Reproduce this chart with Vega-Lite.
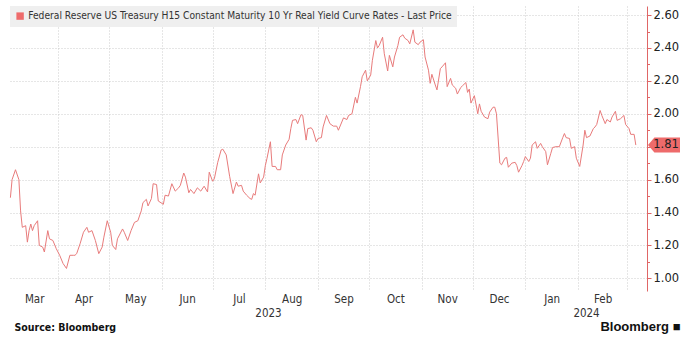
{
  "$schema": "https://vega.github.io/schema/vega-lite/v6.json",
  "width": 637,
  "height": 285,
  "autosize": {"type": "none"},
  "padding": {"left": 10, "top": 6, "right": 53, "bottom": 60},
  "background": "white",
  "config": {"view": {"stroke": null}, "font": "DejaVu Sans Condensed"},
  "data": {"values": [
    {"date":"2023-03-04","value":1.49},{"date":"2023-03-05","value":1.60},{"date":"2023-03-07","value":1.66},{"date":"2023-03-09","value":1.60},{"date":"2023-03-10","value":1.41},{"date":"2023-03-11","value":1.31},{"date":"2023-03-13","value":1.32},{"date":"2023-03-14","value":1.22},{"date":"2023-03-15","value":1.29},{"date":"2023-03-16","value":1.33},{"date":"2023-03-17","value":1.29},{"date":"2023-03-18","value":1.32},{"date":"2023-03-20","value":1.35},{"date":"2023-03-21","value":1.20},{"date":"2023-03-23","value":1.19},{"date":"2023-03-24","value":1.16},{"date":"2023-03-26","value":1.29},{"date":"2023-03-27","value":1.24},{"date":"2023-03-29","value":1.23},{"date":"2023-03-31","value":1.18},
    {"date":"2023-04-02","value":1.14},{"date":"2023-04-04","value":1.09},{"date":"2023-04-06","value":1.06},{"date":"2023-04-08","value":1.14},{"date":"2023-04-10","value":1.14},{"date":"2023-04-11","value":1.14},{"date":"2023-04-12","value":1.15},{"date":"2023-04-14","value":1.21},{"date":"2023-04-16","value":1.28},{"date":"2023-04-18","value":1.31},{"date":"2023-04-19","value":1.28},{"date":"2023-04-21","value":1.29},{"date":"2023-04-23","value":1.23},{"date":"2023-04-25","value":1.15},{"date":"2023-04-27","value":1.19},{"date":"2023-04-28","value":1.25},{"date":"2023-04-30","value":1.35},
    {"date":"2023-05-02","value":1.28},{"date":"2023-05-03","value":1.20},{"date":"2023-05-05","value":1.175},{"date":"2023-05-06","value":1.24},{"date":"2023-05-09","value":1.30},{"date":"2023-05-10","value":1.28},{"date":"2023-05-12","value":1.23},{"date":"2023-05-14","value":1.29},{"date":"2023-05-16","value":1.34},{"date":"2023-05-18","value":1.35},{"date":"2023-05-20","value":1.41},{"date":"2023-05-21","value":1.46},{"date":"2023-05-23","value":1.48},{"date":"2023-05-24","value":1.44},{"date":"2023-05-26","value":1.485},{"date":"2023-05-27","value":1.575},{"date":"2023-05-29","value":1.57},{"date":"2023-05-30","value":1.47},
    {"date":"2023-06-02","value":1.45},{"date":"2023-06-03","value":1.505},{"date":"2023-06-05","value":1.50},{"date":"2023-06-07","value":1.575},{"date":"2023-06-09","value":1.53},{"date":"2023-06-11","value":1.55},{"date":"2023-06-12","value":1.565},{"date":"2023-06-14","value":1.64},{"date":"2023-06-15","value":1.615},{"date":"2023-06-17","value":1.52},{"date":"2023-06-18","value":1.54},{"date":"2023-06-20","value":1.515},{"date":"2023-06-22","value":1.55},{"date":"2023-06-24","value":1.53},{"date":"2023-06-26","value":1.56},{"date":"2023-06-28","value":1.525},{"date":"2023-06-29","value":1.645},
    {"date":"2023-07-01","value":1.59},{"date":"2023-07-02","value":1.605},{"date":"2023-07-04","value":1.705},{"date":"2023-07-06","value":1.78},{"date":"2023-07-07","value":1.785},{"date":"2023-07-09","value":1.75},{"date":"2023-07-11","value":1.62},{"date":"2023-07-13","value":1.515},{"date":"2023-07-15","value":1.585},{"date":"2023-07-16","value":1.56},{"date":"2023-07-18","value":1.565},{"date":"2023-07-19","value":1.53},{"date":"2023-07-21","value":1.505},{"date":"2023-07-23","value":1.485},{"date":"2023-07-24","value":1.48},{"date":"2023-07-25","value":1.515},{"date":"2023-07-26","value":1.505},{"date":"2023-07-28","value":1.635},{"date":"2023-07-29","value":1.58},{"date":"2023-07-31","value":1.615},
    {"date":"2023-08-01","value":1.685},{"date":"2023-08-02","value":1.73},{"date":"2023-08-04","value":1.83},{"date":"2023-08-05","value":1.68},{"date":"2023-08-07","value":1.68},{"date":"2023-08-08","value":1.66},{"date":"2023-08-10","value":1.66},{"date":"2023-08-11","value":1.75},{"date":"2023-08-13","value":1.81},{"date":"2023-08-15","value":1.845},{"date":"2023-08-16","value":1.91},{"date":"2023-08-17","value":1.96},{"date":"2023-08-19","value":1.965},{"date":"2023-08-20","value":1.94},{"date":"2023-08-22","value":1.995},{"date":"2023-08-23","value":1.99},{"date":"2023-08-25","value":1.84},{"date":"2023-08-26","value":1.91},{"date":"2023-08-28","value":1.915},{"date":"2023-08-29","value":1.90},{"date":"2023-08-31","value":1.83},
    {"date":"2023-09-01","value":1.85},{"date":"2023-09-03","value":1.855},{"date":"2023-09-04","value":1.92},{"date":"2023-09-06","value":1.99},{"date":"2023-09-08","value":1.94},{"date":"2023-09-10","value":1.925},{"date":"2023-09-12","value":1.925},{"date":"2023-09-13","value":1.90},{"date":"2023-09-15","value":1.95},{"date":"2023-09-16","value":1.975},{"date":"2023-09-18","value":1.965},{"date":"2023-09-19","value":1.99},{"date":"2023-09-21","value":2.00},{"date":"2023-09-23","value":2.10},{"date":"2023-09-24","value":2.065},{"date":"2023-09-26","value":2.165},{"date":"2023-09-27","value":2.225},{"date":"2023-09-29","value":2.265},{"date":"2023-09-30","value":2.20},
    {"date":"2023-10-02","value":2.235},{"date":"2023-10-03","value":2.325},{"date":"2023-10-05","value":2.445},{"date":"2023-10-06","value":2.40},{"date":"2023-10-07","value":2.415},{"date":"2023-10-09","value":2.465},{"date":"2023-10-10","value":2.365},{"date":"2023-10-12","value":2.26},{"date":"2023-10-13","value":2.355},{"date":"2023-10-15","value":2.285},{"date":"2023-10-16","value":2.345},{"date":"2023-10-18","value":2.415},{"date":"2023-10-19","value":2.465},{"date":"2023-10-21","value":2.48},{"date":"2023-10-22","value":2.46},{"date":"2023-10-24","value":2.445},{"date":"2023-10-25","value":2.425},{"date":"2023-10-27","value":2.51},{"date":"2023-10-28","value":2.435},{"date":"2023-10-30","value":2.42},{"date":"2023-10-31","value":2.435},
    {"date":"2023-11-02","value":2.45},{"date":"2023-11-03","value":2.345},{"date":"2023-11-05","value":2.265},{"date":"2023-11-06","value":2.185},{"date":"2023-11-07","value":2.24},{"date":"2023-11-09","value":2.175},{"date":"2023-11-10","value":2.145},{"date":"2023-11-12","value":2.275},{"date":"2023-11-13","value":2.285},{"date":"2023-11-15","value":2.31},{"date":"2023-11-16","value":2.165},{"date":"2023-11-18","value":2.215},{"date":"2023-11-19","value":2.175},{"date":"2023-11-21","value":2.155},{"date":"2023-11-22","value":2.12},{"date":"2023-11-24","value":2.16},{"date":"2023-11-25","value":2.17},{"date":"2023-11-27","value":2.19},{"date":"2023-11-28","value":2.13},{"date":"2023-11-29","value":2.15},{"date":"2023-11-30","value":2.065},
    {"date":"2023-12-02","value":2.11},{"date":"2023-12-04","value":2.00},{"date":"2023-12-05","value":2.06},{"date":"2023-12-06","value":2.015},{"date":"2023-12-08","value":1.98},{"date":"2023-12-10","value":1.97},{"date":"2023-12-11","value":2.01},{"date":"2023-12-13","value":2.04},{"date":"2023-12-14","value":2.04},{"date":"2023-12-15","value":2.00},{"date":"2023-12-17","value":1.70},{"date":"2023-12-18","value":1.69},{"date":"2023-12-20","value":1.73},{"date":"2023-12-21","value":1.735},{"date":"2023-12-22","value":1.675},{"date":"2023-12-24","value":1.70},{"date":"2023-12-26","value":1.705},{"date":"2023-12-27","value":1.685},{"date":"2023-12-28","value":1.645},{"date":"2023-12-30","value":1.685},{"date":"2023-12-31","value":1.71},
    {"date":"2024-01-01","value":1.74},{"date":"2024-01-03","value":1.71},{"date":"2024-01-04","value":1.73},{"date":"2024-01-05","value":1.81},{"date":"2024-01-07","value":1.83},{"date":"2024-01-08","value":1.79},{"date":"2024-01-10","value":1.82},{"date":"2024-01-11","value":1.80},{"date":"2024-01-13","value":1.77},{"date":"2024-01-14","value":1.69},{"date":"2024-01-16","value":1.76},{"date":"2024-01-17","value":1.795},{"date":"2024-01-19","value":1.80},{"date":"2024-01-21","value":1.80},{"date":"2024-01-23","value":1.855},{"date":"2024-01-24","value":1.88},{"date":"2024-01-25","value":1.855},{"date":"2024-01-27","value":1.85},{"date":"2024-01-28","value":1.79},{"date":"2024-01-30","value":1.80},{"date":"2024-01-31","value":1.73},
    {"date":"2024-02-02","value":1.68},{"date":"2024-02-04","value":1.81},{"date":"2024-02-05","value":1.90},{"date":"2024-02-06","value":1.855},{"date":"2024-02-08","value":1.865},{"date":"2024-02-10","value":1.91},{"date":"2024-02-11","value":1.92},{"date":"2024-02-12","value":1.935},{"date":"2024-02-14","value":2.02},{"date":"2024-02-15","value":1.99},{"date":"2024-02-17","value":1.94},{"date":"2024-02-18","value":1.965},{"date":"2024-02-20","value":1.95},{"date":"2024-02-21","value":1.98},{"date":"2024-02-23","value":2.015},{"date":"2024-02-24","value":1.96},{"date":"2024-02-26","value":1.97},{"date":"2024-02-28","value":1.99},{"date":"2024-02-29","value":1.935},
    {"date":"2024-03-02","value":1.91},{"date":"2024-03-03","value":1.875},{"date":"2024-03-05","value":1.875},{"date":"2024-03-06","value":1.81}
  ]},
  "layer": [
    {
      "mark": {"type": "line", "strokeWidth": 1, "interpolate": "linear"},
      "encoding": {
        "x": {
          "field": "date", "type": "temporal",
          "scale": {"type": "utc", "domain": [
            {"year": 2023, "month": 3, "date": 3, "hours": 18, "minutes": 29, "utc": true},
            {"year": 2024, "month": 3, "date": 12, "hours": 13, "minutes": 55, "utc": true}
          ]},
          "axis": {
            "orient": "bottom",
            "values": [
              {"year": 2023, "month": 4, "date": 1, "utc": true},
              {"year": 2023, "month": 5, "date": 1, "utc": true},
              {"year": 2023, "month": 6, "date": 1, "utc": true},
              {"year": 2023, "month": 7, "date": 1, "utc": true},
              {"year": 2023, "month": 8, "date": 1, "utc": true},
              {"year": 2023, "month": 9, "date": 1, "utc": true},
              {"year": 2023, "month": 10, "date": 1, "utc": true},
              {"year": 2023, "month": 11, "date": 1, "utc": true},
              {"year": 2023, "month": 12, "date": 1, "utc": true},
              {"year": 2024, "month": 1, "date": 1, "utc": true},
              {"year": 2024, "month": 2, "date": 1, "utc": true},
              {"year": 2024, "month": 3, "date": 1, "utc": true}
            ],
            "grid": true, "gridColor": "#cccccc", "gridDash": [1, 2], "gridWidth": 1,
            "labels": false, "ticks": false, "domain": false, "title": null
          }
        },
        "y": {
          "field": "value", "type": "quantitative",
          "scale": {"domain": [0.923, 2.655], "nice": false, "zero": false},
          "axis": {
            "orient": "right",
            "values": [1.0, 1.2, 1.4, 1.6, 1.8, 2.0, 2.2, 2.4, 2.6],
            "format": ".2f",
            "grid": true, "gridColor": "#cccccc", "gridDash": [1, 2], "gridWidth": 1,
            "domainColor": "#e06666", "domainWidth": 1,
            "tickColor": "#e06666", "tickSize": 4, "tickWidth": 1,
            "labelPadding": 2, "labelFont": "DejaVu Sans", "labelFontSize": 11.5, "labelColor": "#222222",
            "title": null
          }
        },
        "color": {
          "datum": "Federal Reserve US Treasury H15 Constant Maturity 10 Yr Real Yield Curve Rates - Last Price",
          "scale": {"range": ["#e87b7b"]},
          "legend": {
            "orient": "top-left", "offset": 0, "title": null,
            "fillColor": "#efefef", "padding": 5,
            "symbolType": "square", "symbolSize": 55,
            "labelFont": "DejaVu Sans Condensed", "labelFontSize": 10.2, "labelColor": "#333333",
            "labelLimit": 700, "labelOffset": 3,
            "encode": {"symbols": {"update": {"fill": {"value": "#ee6b6b"}, "stroke": {"value": "transparent"}, "strokeWidth": {"value": 0}}}}
          }
        }
      }
    },
    {
      "mark": {"type": "point", "opacity": 0},
      "encoding": {
        "x": {
          "field": "date", "type": "temporal",
          "axis": {
            "orient": "bottom",
            "values": [
              {"year": 2023, "month": 3, "date": 18, "utc": true},
              {"year": 2023, "month": 4, "date": 16, "utc": true},
              {"year": 2023, "month": 5, "date": 16, "hours": 12, "utc": true},
              {"year": 2023, "month": 6, "date": 16, "utc": true},
              {"year": 2023, "month": 7, "date": 16, "hours": 12, "utc": true},
              {"year": 2023, "month": 8, "date": 16, "hours": 12, "utc": true},
              {"year": 2023, "month": 9, "date": 16, "utc": true},
              {"year": 2023, "month": 10, "date": 16, "hours": 12, "utc": true},
              {"year": 2023, "month": 11, "date": 16, "utc": true},
              {"year": 2023, "month": 12, "date": 16, "hours": 12, "utc": true},
              {"year": 2024, "month": 1, "date": 16, "hours": 12, "utc": true},
              {"year": 2024, "month": 2, "date": 15, "hours": 12, "utc": true}
            ],
            "format": "%b", "labelOverlap": false, "labelFlush": false,
            "grid": false, "ticks": false, "tickSize": 0, "domain": false,
            "labelPadding": 2, "labelFont": "DejaVu Sans Condensed", "labelFontSize": 11.5, "labelColor": "#333333",
            "title": "Source: Bloomberg", "titleX": 4, "titleY": 36, "titleAlign": "left", "titleAnchor": "start",
            "titleBaseline": "middle", "titleFont": "DejaVu Sans Condensed", "titleFontWeight": "bold",
            "titleFontSize": 10.5, "titleColor": "#111111"
          }
        },
        "y": {
          "field": "value", "type": "quantitative",
          "axis": {
            "orient": "right",
            "values": [1.1, 1.3, 1.5, 1.7, 1.9, 2.1, 2.3, 2.5],
            "labels": false, "grid": false, "domain": false,
            "tickColor": "#e06666", "tickSize": 2.5, "tickWidth": 1, "title": null
          }
        }
      }
    },
    {
      "mark": {"type": "point", "opacity": 0},
      "encoding": {
        "x": {
          "field": "date", "type": "temporal",
          "axis": {
            "orient": "bottom", "offset": 14,
            "values": [
              {"year": 2023, "month": 8, "date": 2, "hours": 14, "utc": true},
              {"year": 2024, "month": 2, "date": 5, "hours": 17, "utc": true}
            ],
            "format": "%Y", "labelOverlap": false, "labelFlush": false,
            "grid": false, "ticks": false, "tickSize": 0, "domain": false,
            "labelPadding": 2, "labelFont": "DejaVu Sans Condensed", "labelFontSize": 11.5, "labelColor": "#333333",
            "title": "Bloomberg \u25A0", "titleX": 670, "titleY": 21, "titleAlign": "right", "titleAnchor": "end",
            "titleBaseline": "middle", "titleFont": "Liberation Sans", "titleFontWeight": "bold",
            "titleFontSize": 13, "titleColor": "#111111"
          }
        },
        "y": {"field": "value", "type": "quantitative", "axis": null}
      }
    },
    {
      "transform": [
        {"window": [{"op": "row_number", "as": "rn"}], "sort": [{"field": "date", "order": "descending"}]},
        {"filter": "datum.rn == 1"}
      ],
      "mark": {"type": "point", "shape": "M0,0 L0.4,-0.47 L2,-0.47 L2,0.47 L0.4,0.47 Z", "size": 1024, "filled": true, "fill": "#ee6b6b", "opacity": 1, "strokeWidth": 0, "xOffset": 1},
      "encoding": {
        "x": {"value": "width"},
        "y": {"field": "value", "type": "quantitative", "axis": null}
      }
    },
    {
      "transform": [
        {"window": [{"op": "row_number", "as": "rn"}], "sort": [{"field": "date", "order": "descending"}]},
        {"filter": "datum.rn == 1"}
      ],
      "mark": {"type": "text", "dx": 19, "align": "center", "baseline": "middle", "font": "DejaVu Sans", "fontSize": 11.5, "fill": "#222222"},
      "encoding": {
        "x": {"value": "width"},
        "y": {"field": "value", "type": "quantitative", "axis": null},
        "text": {"field": "value", "type": "quantitative", "format": ".2f"}
      }
    }
  ],
  "resolve": {"axis": {"x": "independent", "y": "independent"}}
}
